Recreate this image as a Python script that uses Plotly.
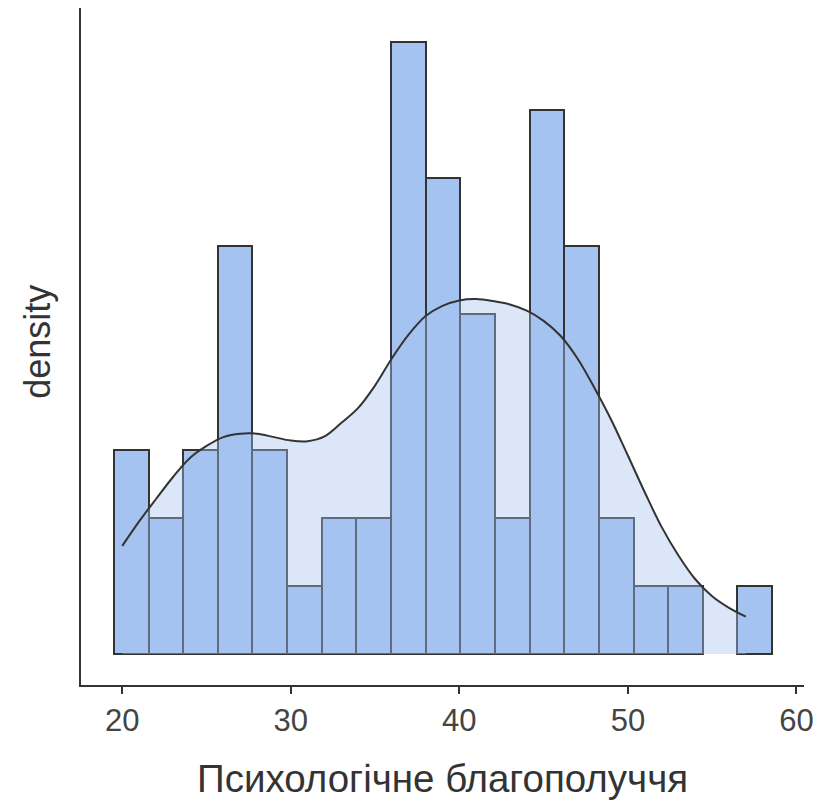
import plotly.graph_objects as go

# ---- data ----
bin_start = 19.5
bin_width = 37 / 18
counts = [3, 2, 3, 6, 3, 1, 2, 2, 9, 7, 5, 2, 8, 6, 2, 1, 1, 0, 1]

dens_x = [20, 21, 22, 23, 24, 25, 26, 27, 28, 29, 30, 31, 32, 33, 34, 35, 36, 37, 38,
          39, 40, 41, 42, 43, 44, 45, 46, 47, 48, 49, 50, 51, 52, 53, 54, 55, 56, 57]
dens_y = [1.59, 1.95, 2.28, 2.60, 2.88, 3.06, 3.19, 3.24, 3.24, 3.19, 3.14, 3.13, 3.20,
          3.40, 3.62, 3.95, 4.35, 4.70, 4.97, 5.12, 5.20, 5.22, 5.19, 5.14, 5.05, 4.90,
          4.68, 4.35, 3.92, 3.45, 2.92, 2.38, 1.87, 1.45, 1.10, 0.85, 0.68, 0.55]

x_ticks = [20, 30, 40, 50, 60]
x_title = "Психологічне благополуччя"
y_title = "density"

bar_color = "#A5C3F0"
edge_color = "#333333"

centers = [bin_start + bin_width * (i + 0.5) for i in range(len(counts))]
heights = [c if c > 0 else None for c in counts]

fig = go.Figure()
fig.add_trace(go.Bar(
    x=centers, y=heights, width=bin_width,
    marker=dict(color=bar_color, line=dict(color=edge_color, width=2)),
    showlegend=False, hoverinfo="skip"
))
fig.add_trace(go.Scatter(
    x=dens_x, y=dens_y, mode="lines", fill="tozeroy",
    fillcolor="rgba(165,195,240,0.4)",
    line=dict(color="#333333", width=2, shape="spline"),
    showlegend=False, hoverinfo="skip"
))

font_family = "Liberation Sans, Arial, sans-serif"

fig.update_layout(
    width=822, height=800,
    margin=dict(l=81, r=12, t=8, b=115),
    paper_bgcolor="white", plot_bgcolor="white",
    bargap=0,
    font=dict(family=font_family, color="#444444"),
    xaxis=dict(
        range=[17.55, 60.45], showgrid=False, zeroline=False,
        showline=True, linecolor="#333333", linewidth=2,
        ticks="outside", ticklen=7, tickwidth=2, tickcolor="#333333",
        tickvals=x_ticks, ticktext=[str(t) for t in x_ticks],
        tickfont=dict(size=31, color="#444444", family=font_family),
    ),
    yaxis=dict(
        range=[-0.455, 9.5], showgrid=False, zeroline=False,
        showline=True, linecolor="#333333", linewidth=2,
        showticklabels=False, ticks="",
    ),
    annotations=[
        dict(text=x_title, xref="paper", yref="paper", x=0.5, y=0,
             xanchor="center", yanchor="middle", yshift=-93, showarrow=False,
             font=dict(size=38.5, color="#333333", family=font_family)),
        dict(text=y_title, xref="paper", yref="paper", x=0, y=0.507,
             xanchor="center", yanchor="middle", xshift=-43, textangle=-90,
             showarrow=False,
             font=dict(size=36, color="#333333", family=font_family)),
    ],
)

fig.write_html("out.html")
